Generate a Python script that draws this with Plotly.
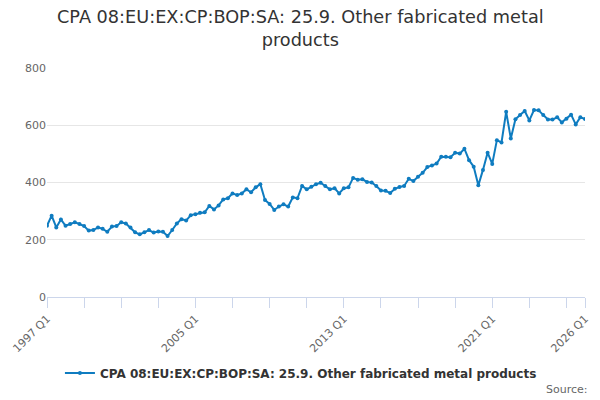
import plotly.graph_objects as go

# Quarter labels 1997 Q1 .. 2026 Q1
years = list(range(1997, 2027))
quarters = [f"{y} Q{q}" for y in years for q in range(1, 5)][:117]

values = [
    249, 284, 243, 271, 249, 255, 261, 255, 248, 232,
    234, 243, 238, 228, 246, 248, 261, 257, 243, 226,
    219, 226, 234, 225, 229, 228, 213, 234, 257, 272,
    267, 286, 289, 294, 296, 318, 306, 320, 341, 345,
    362, 356, 362, 376, 366, 383, 394, 339, 325, 304,
    316, 324, 316, 348, 345, 388, 376, 385, 394, 399,
    388, 376, 380, 362, 380, 383, 416, 410, 411, 402,
    400, 388, 372, 371, 363, 378, 384, 388, 413, 405,
    420, 434, 454, 459, 466, 490, 490, 488, 504, 501,
    518, 478, 455, 390, 444, 504, 465, 548, 540, 647,
    554, 621, 636, 650, 617, 653, 652, 636, 620, 620,
    628, 610, 623, 637, 603, 628, 622,
]

series_name = "CPA 08:EU:EX:CP:BOP:SA: 25.9. Other fabricated metal products"
title_text = "CPA 08:EU:EX:CP:BOP:SA: 25.9. Other fabricated metal<br>products"

tick_idx = list(range(0, 113, 8)) + [116]
label_map = {0: "1997 Q1", 32: "2005 Q1", 64: "2013 Q1", 96: "2021 Q1", 116: "2026 Q1"}
tick_vals = [quarters[i] for i in tick_idx]
tick_text = [label_map.get(i, "") for i in tick_idx]

y_ticks = [0, 200, 400, 600, 800]

color = "#0f7cc0"
font_family = "DejaVu Sans"

fig = go.Figure()
fig.add_trace(go.Scatter(
    x=quarters, y=values, mode="lines+markers", name=series_name,
    line=dict(color=color, width=2),
    marker=dict(color=color, size=4),
    showlegend=True,
))

fig.update_layout(
    width=600, height=400,
    paper_bgcolor="white", plot_bgcolor="white",
    margin=dict(l=47, r=15, t=68, b=103),
    font=dict(family=font_family, color="#666666", size=11),
    legend=dict(orientation="h", x=0.472, xanchor="center", y=-0.332, yanchor="middle",
                font=dict(size=12, color="#333333", family=font_family, weight="bold"),
                bgcolor="rgba(0,0,0,0)"),
    showlegend=True,
)

# Title as an annotation (two centred lines)
fig.add_annotation(
    text=title_text, xref="paper", yref="paper", x=0.472, y=1.274,
    xanchor="center", yanchor="top", showarrow=False, align="center",
    font=dict(size=17.7, color="#333333", family=font_family),
)

fig.update_xaxes(
    type="category", categoryorder="array", categoryarray=quarters,
    range=[0, len(quarters) - 1],
    tickmode="array", tickvals=tick_vals, ticktext=tick_text,
    tickangle=-45, ticks="outside", ticklen=10, tickcolor="#ccd6eb",
    showline=True, linecolor="#ccd6eb", linewidth=1,
    showgrid=False, zeroline=False, automargin=False,
    tickfont=dict(size=11, color="#666666"),
)
fig.update_yaxes(
    range=[0, 800], tickmode="array", tickvals=y_ticks,
    showgrid=True, gridcolor="#e6e6e6", gridwidth=1,
    zeroline=False, showline=False, ticks="", automargin=False,
    tickfont=dict(size=11, color="#666666"),
)

fig.add_annotation(
    text="Source:", xref="paper", yref="paper", x=1.009, y=-0.406,
    xanchor="right", yanchor="middle", showarrow=False,
    font=dict(size=11, color="#666666", family=font_family),
)

fig.write_html("out.html", config={"displayModeBar": False})

# remove the default browser body margin so the figure sits at the page origin
with open("out.html", "r", encoding="utf-8") as f:
    html = f.read()
html = html.replace("<head>", "<head><style>html,body{margin:0;padding:0;overflow:hidden;}</style>", 1)
with open("out.html", "w", encoding="utf-8") as f:
    f.write(html)
